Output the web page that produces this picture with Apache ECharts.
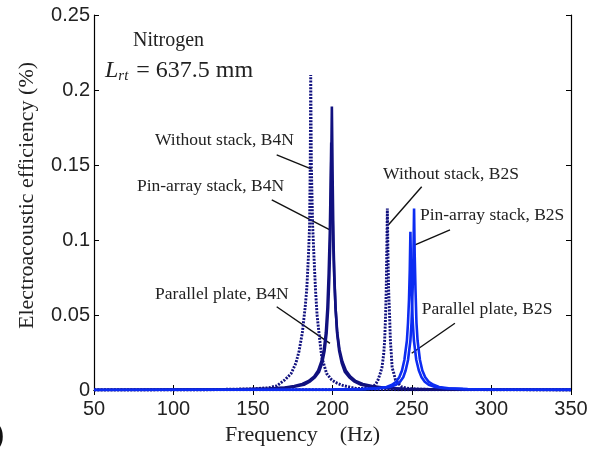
<!DOCTYPE html>
<html>
<head>
<meta charset="utf-8">
<title>Electroacoustic efficiency</title>
<script src="https://cdn.jsdelivr.net/npm/echarts@6/dist/echarts.min.js"></script>
<style>
    html, body { margin: 0; padding: 0; background: #fff; }
    #chart { width: 602px; height: 454px; }
</style>
</head>
<body>
<div id="chart"></div>
<script>
// 坐标刻度
const xTicks = [50, 100, 150, 200, 250, 300, 350];
const yTicks = [0, 0.05, 0.1, 0.15, 0.2, 0.25];

// [频率 Hz, 效率 %]
const withoutB4N = [
    [50, 0], [120, 0], [130, 0.0004], [150, 0.0008], [160, 0.0015], [165, 0.0028],
    [170, 0.0067], [174, 0.011], [177, 0.018], [179, 0.026], [181, 0.038], [182.8, 0.055],
    [183.8, 0.067], [184.9, 0.09], [185.6, 0.11], [186, 0.15], [186.3, 0.21], [186.7, 0.15],
    [187.5, 0.11], [188.3, 0.09], [189.3, 0.067], [190.3, 0.05], [191.5, 0.038], [193.2, 0.022],
    [196.3, 0.011], [199.5, 0.0067], [203, 0.0045], [206.6, 0.003], [215, 0.001], [225, 0.0004],
    [240, 0.0002], [350, 0]
];
const withoutB2S = [
    [50, 0], [200, 0.0002], [212, 0.0006], [218, 0.001], [222, 0.0015], [225.5, 0.002],
    [227.5, 0.0045], [228.6, 0.0067], [230, 0.011], [231.1, 0.015], [232.2, 0.024], [232.8, 0.033],
    [233.4, 0.05], [233.8, 0.067], [234.1, 0.09], [234.5, 0.121], [234.9, 0.09], [235.3, 0.067],
    [235.9, 0.05], [236.4, 0.033], [237, 0.024], [237.5, 0.015], [238.6, 0.011], [239.6, 0.0067],
    [241.3, 0.0045], [243.7, 0.002], [248, 0.001], [256, 0.0005], [270, 0.0003], [300, 0.0002],
    [330, 0.0001], [350, 0]
];
const pinB4N = [
    [50, 0], [140, 0.0003], [160, 0.0008], [170, 0.0014], [176, 0.0022], [182, 0.0035],
    [186, 0.0058], [189, 0.0085], [191.5, 0.012], [193.5, 0.018], [195, 0.026], [196.3, 0.038],
    [197.3, 0.055], [198, 0.075], [198.6, 0.1], [199.1, 0.14], [199.6, 0.189], [200.1, 0.14],
    [200.6, 0.1], [201.2, 0.075], [201.9, 0.055], [202.9, 0.038], [204.2, 0.026], [205.8, 0.018],
    [207.8, 0.012], [210.5, 0.0085], [213.5, 0.0058], [218, 0.0035], [224, 0.0022], [232, 0.0013],
    [245, 0.0007], [270, 0.0003], [350, 0.0001]
];
const parallelB4N = [
    [50, 0], [140, 0.0004], [160, 0.001], [170, 0.0017], [176, 0.0026], [181, 0.004],
    [185, 0.006], [188.5, 0.009], [191, 0.013], [193, 0.019], [194.6, 0.027], [195.8, 0.038],
    [196.8, 0.055], [197.6, 0.078], [198.3, 0.105], [198.8, 0.135], [199.2, 0.165], [199.7, 0.135],
    [200.3, 0.105], [201, 0.078], [201.9, 0.055], [203, 0.038], [204.4, 0.027], [206.2, 0.019],
    [208.4, 0.013], [211.2, 0.009], [214.5, 0.006], [219, 0.004], [225, 0.0026], [233, 0.0015],
    [245, 0.0008], [270, 0.0003], [350, 0.0001]
];
const pinB2S = [
    [50, 0], [200, 0.0003], [220, 0.0006], [230, 0.0012], [236, 0.002], [240, 0.0035],
    [242.5, 0.0055], [244.5, 0.0085], [246, 0.013], [247.5, 0.02], [249, 0.033], [249.7, 0.045],
    [250.4, 0.067], [250.9, 0.09], [251.3, 0.121], [251.7, 0.09], [252.2, 0.067], [252.8, 0.045],
    [253.5, 0.033], [255, 0.02], [256.5, 0.013], [258.3, 0.0085], [260.5, 0.0055], [263.5, 0.0035],
    [267, 0.002], [273, 0.0012], [285, 0.0006], [300, 0.0003], [350, 0.0001]
];
const parallelB2S = [
    [50, 0], [200, 0.0003], [218, 0.0006], [228, 0.0012], [234, 0.002], [237.5, 0.0035],
    [240, 0.0055], [242, 0.0085], [243.7, 0.013], [245.2, 0.02], [246.8, 0.033], [247.5, 0.045],
    [248.1, 0.06], [248.6, 0.08], [249, 0.1055], [249.4, 0.08], [249.9, 0.06], [250.5, 0.045],
    [251.2, 0.033], [252.7, 0.02], [254.3, 0.013], [256, 0.0085], [258, 0.0055], [260.5, 0.0035],
    [264.5, 0.002], [270, 0.0012], [282, 0.0006], [300, 0.0003], [350, 0.0001]
];

// 注释：文字左端位置和引线（数据坐标）
const notes = [
    { text: 'Without stack, B4N', at: [88.4, 0.166], line: [[164.9, 0.1567], [186.9, 0.1473]] },
    { text: 'Pin-array stack, B4N', at: [77.0, 0.1353], line: [[161.8, 0.1267], [198.4, 0.1067]] },
    { text: 'Parallel plate, B4N', at: [88.4, 0.0633], line: [[164.9, 0.0555], [198.4, 0.0311]] },
    { text: 'Without stack, B2S', at: [231.8, 0.1433], line: [[256.1, 0.1355], [235.1, 0.11]] },
    { text: 'Pin-array stack, B2S', at: [255.0, 0.1155], line: [[273.9, 0.1067], [251.9, 0.0967]] },
    { text: 'Parallel plate, B2S', at: [256.1, 0.0533], line: [[277.0, 0.0445], [249.8, 0.0245]] }
];

const SERIF = "'Times New Roman', 'Liberation Serif', serif";
const SANS = "Arial, 'Liberation Sans', sans-serif";
const NAVY = '#11117f';
const BLUE = '#0c2cf2';

document.addEventListener('DOMContentLoaded', function () {
    initChart();
});

function curve(data, color, dotted) {
    return {
        type: 'line',
        data: data,
        showSymbol: false,
        silent: true,
        lineStyle: {
            color: color,
            width: dotted ? 2.9 : 2.6,
            type: dotted ? [2, 1.3] : 'solid'
        }
    };
}

function initChart() {
    const chart = echarts.init(document.getElementById('chart'));
    const boxAxis = {
        axisLine: { show: true, lineStyle: { color: '#000', width: 1.2 } },
        axisTick: { show: true, inside: true, length: 5, lineStyle: { color: '#000' } },
        splitLine: { show: false }
    };
    const option = {
        animation: false,
        grid: { left: 94, top: 15, width: 477, height: 375 },
        xAxis: [
            Object.assign({
                type: 'value',
                min: xTicks[0],
                max: xTicks[xTicks.length - 1],
                interval: xTicks[1] - xTicks[0],
                name: 'Frequency    (Hz)',
                nameLocation: 'middle',
                nameGap: 34,
                nameTextStyle: { fontFamily: SERIF, fontSize: 22, color: '#222', padding: [0, 60, 0, 0] },
                axisLabel: { fontFamily: SANS, fontSize: 20, color: '#222', margin: 9 }
            }, boxAxis),
            Object.assign({
                type: 'value', position: 'top',
                min: xTicks[0], max: xTicks[xTicks.length - 1], interval: xTicks[1] - xTicks[0],
                axisLabel: { show: false }
            }, boxAxis)
        ],
        yAxis: [
            Object.assign({
                type: 'value',
                min: yTicks[0],
                max: yTicks[yTicks.length - 1],
                interval: yTicks[1] - yTicks[0],
                name: 'Electroacoustic efficiency (%)',
                nameLocation: 'middle',
                nameGap: 56,
                nameTextStyle: { fontFamily: SERIF, fontSize: 22, color: '#222', padding: [0, 0, 0, 14] },
                axisLabel: { fontFamily: SANS, fontSize: 20, color: '#222', margin: 4 }
            }, boxAxis),
            Object.assign({
                type: 'value', position: 'right',
                min: yTicks[0], max: yTicks[yTicks.length - 1], interval: yTicks[1] - yTicks[0],
                axisLabel: { show: false }
            }, boxAxis)
        ],
        series: [
            curve(withoutB4N, NAVY, true),
            curve(withoutB2S, NAVY, true),
            curve(parallelB4N, NAVY, false),
            curve(pinB4N, NAVY, false),
            curve(parallelB2S, BLUE, false),
            curve(pinB2S, BLUE, false)
        ]
    };
    chart.setOption(option);

    // 注释文字和引线
    const toPx = p => chart.convertToPixel({ gridIndex: 0 }, p);
    const graphics = [];
    notes.forEach(n => {
        const a = toPx(n.at);
        const p1 = toPx(n.line[0]);
        const p2 = toPx(n.line[1]);
        graphics.push({
            type: 'text', left: a[0], top: a[1] - 10,
            style: { text: n.text, font: '17.5px ' + SERIF, fill: '#222' }
        });
        graphics.push({
            type: 'line',
            shape: { x1: p1[0], y1: p1[1], x2: p2[0], y2: p2[1] },
            style: { stroke: '#111', lineWidth: 1.4 }
        });
    });
    const nPos = toPx([74.5, 0.232]);
    graphics.push({
        type: 'text', left: nPos[0], top: nPos[1] - 11,
        style: { text: 'Nitrogen', font: '20px ' + SERIF, fill: '#222' }
    });
    const lPos = toPx([56.9, 0.2113]);
    graphics.push({
        type: 'text', left: lPos[0], top: lPos[1] - 14,
        style: {
            text: '{l|L}{s|rt}{n| = 637.5 mm}',
            rich: {
                l: { font: 'italic 24px ' + SERIF, fill: '#222' },
                s: { font: 'italic 15px ' + SERIF, fill: '#222', padding: [10, 2, 0, 0] },
                n: { font: '24px ' + SERIF, fill: '#222' }
            }
        }
    });
    graphics.push({
        type: 'text', left: -4, top: 424,
        style: { text: ')', font: 'bold 24px ' + SANS, fill: '#111' }
    });
    chart.setOption({ graphic: graphics });
    window.addEventListener('resize', () => chart.resize());
}
</script>
</body>
</html>
